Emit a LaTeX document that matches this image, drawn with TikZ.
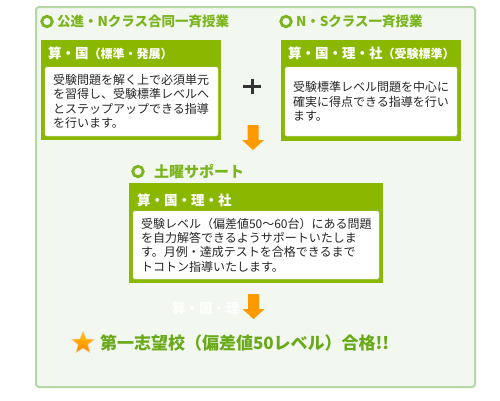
\documentclass[tikz,border=0pt]{standalone}
\usepackage{fontspec}
\setmainfont{Noto Sans CJK JP}
\usetikzlibrary{shapes.geometric}
\definecolor{framegreen}{HTML}{B3D8A5}
\definecolor{framefill}{HTML}{F2F7EF}
\definecolor{boxgreen}{HTML}{8AB800}
\definecolor{headgreen}{HTML}{7AB51D}
\definecolor{goalgreen}{HTML}{6AAA1A}
\definecolor{arroworange}{HTML}{FF9900}
\definecolor{plusgray}{HTML}{333333}

\begin{document}
\begin{tikzpicture}[
        x=1bp,
        y=-1bp,
        every node/.style={inner sep=0pt, outer sep=0pt},
        heading/.style={
            font=\fontsize{13.5bp}{16bp}\selectfont\bfseries,
            text=headgreen,
            anchor=west
        },
        bullet/.style={
            circle,
            draw=headgreen,
            line width=2.8bp,
            minimum size=10.5bp
        },
        greenbox/.style={
            fill=boxgreen,
            anchor=north west
        },
        boxhead/.style={
            font=\fontsize{13.5bp}{16bp}\selectfont\bfseries,
            text=white,
            anchor=west
        },
        textbox/.style={
            fill=white,
            draw=black!15,
            rounded corners=1.5bp,
            anchor=north west,
            align=left,
            inner xsep=8bp,
            font=\fontsize{12bp}{14.4bp}\selectfont,
            text=black!85
        },
        downarrow/.pic={
            \fill[arroworange] (-5.5,0) -- (5.5,0) -- (5.5,15) -- (11,15)
                -- (0,25) -- (-11,15) -- (-5.5,15) -- cycle;
        },
        plussign/.pic={
            \draw[plusgray, line width=3bp] (-9,0) -- (9,0);
            \draw[plusgray, line width=3bp] (0,-7.5) -- (0,7.5);
        }
    ]
        \useasboundingbox (0,0) rectangle (500,400);

        % outer frame
        \draw[framegreen, fill=framefill, line width=2bp, rounded corners=3bp]
            (36,7) rectangle (475,387);

        % left column: joint class
        \node[bullet] (bulletA) at (47,21.5) {};
        \node[heading] (headA) at (57,21.5) {公進・Nクラス合同一斉授業};

        \node[greenbox, minimum width=180bp, minimum height=100bp]
            (boxA) at (41,40) {};
        \node[boxhead] (subjA) at (48,53)
            {算・国{\fontsize{12bp}{14bp}\selectfont（標準・発展）}};
        \node[textbox, text width=157bp, minimum height=69bp]
            (textA) at (45,67)
            {受験問題を解く上で必須単元\\
             を習得し、受験標準レベルへ\\
             とステップアップできる指導\\
             を行います。};

        % right column: N/S class
        \node[bullet] (bulletB) at (286,21.5) {};
        \node[heading] (headB) at (296,21.5) {N・Sクラス一斉授業};

        \node[greenbox, minimum width=180bp, minimum height=101bp]
            (boxB) at (281,40) {};
        \node[boxhead] (subjB) at (288,53)
            {算・国・理・社{\fontsize{12bp}{14bp}\selectfont（受験標準）}};
        \node[textbox, text width=156bp, minimum height=69bp]
            (textB) at (285,67)
            {受験標準レベル問題を中心に\\
             確実に得点できる指導を行い\\
             ます。};

        \pic at (252,86) {plussign};
        \pic at (253,125) {downarrow};

        % saturday support
        \node[bullet] (bulletC) at (138,171.5) {};
        \node[heading, font=\fontsize{15bp}{18bp}\selectfont\bfseries]
            (headC) at (154,171.5) {土曜サポート};

        \node[greenbox, minimum width=254bp, minimum height=100bp]
            (boxC) at (129,183) {};
        \node[boxhead] (subjC) at (137,200) {算・国・理・社};
        \node[textbox, text width=230bp, minimum height=68bp]
            (textC) at (133,211)
            {受験レベル（偏差値50〜60台）にある問題\\
             を自力解答できるようサポートいたしま\\
             す。月例・達成テストを合格できるまで\\
             トコトン指導いたします。};

        \node[boxhead] (ghost) at (172,308) {算・国・理};
        \pic at (253.5,294) {downarrow};

        % goal
        \node[star, star points=5, star point ratio=2.3, minimum size=23bp,
              draw=orange!50!white, line width=0.6bp,
              top color=yellow!60!orange, bottom color=orange]
            (star) at (83,343) {};
        \node[heading, font=\fontsize{17bp}{20bp}\selectfont\bfseries,
              text=goalgreen]
            (goal) at (100,343) {第一志望校（偏差値50レベル）合格!!};
    \end{tikzpicture}
\end{document}
